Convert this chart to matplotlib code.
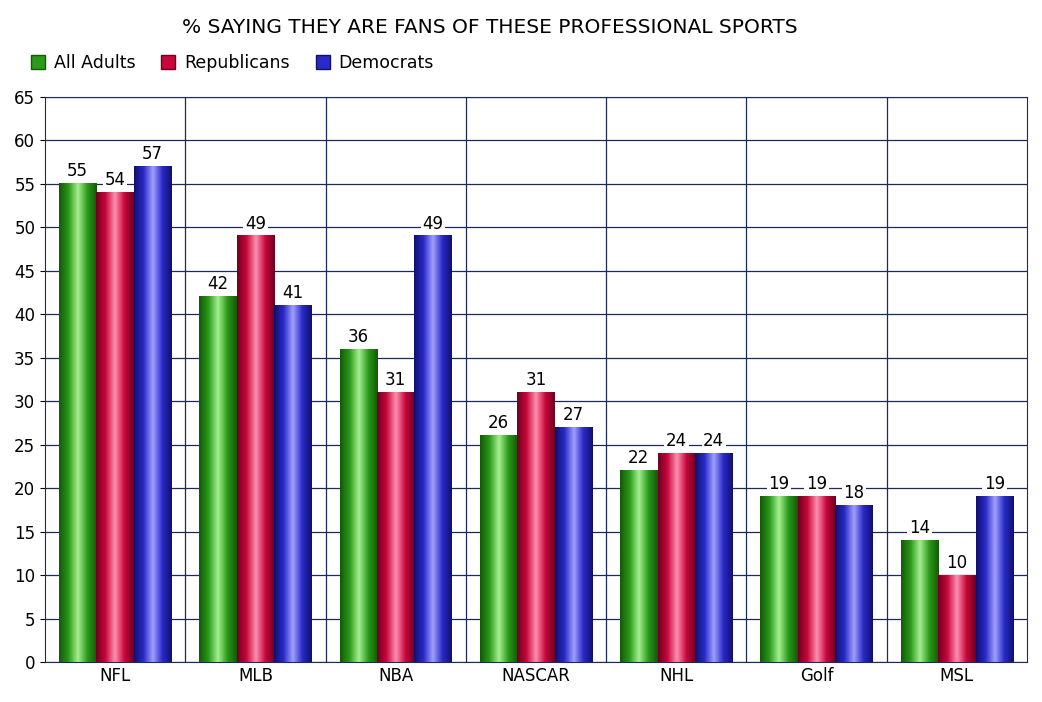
import matplotlib
matplotlib.use("Agg")
import matplotlib.pyplot as plt
import numpy as np
from matplotlib.colors import LinearSegmentedColormap
from matplotlib.patches import Rectangle

categories = ["NFL", "MLB", "NBA", "NASCAR", "NHL", "Golf", "MSL"]
series_names = ["All Adults", "Republicans", "Democrats"]
all_adults = [55, 42, 36, 26, 22, 19, 14]
republicans = [54, 49, 31, 31, 24, 19, 10]
democrats = [57, 41, 49, 27, 24, 18, 19]
yticks = list(range(0, 70, 5))

series = [all_adults, republicans, democrats]
base = ["#2a9a1a", "#c8083c", "#2a2ac8"]
dark = ["#145a08", "#700020", "#101070"]
light = ["#a8f090", "#ff90b0", "#a0a0ff"]

fig = plt.figure(figsize=(10.42, 7.02), dpi=100)
ax = fig.add_axes([0.0432, 0.057, 0.9424, 0.805])
n = len(categories)
w = 0.267
x = np.arange(n)
ax.set_xlim(-0.5, n - 0.5)
ax.set_ylim(0, 65)

for i, vals in enumerate(series):
    cmap = LinearSegmentedColormap.from_list("c", [dark[i], base[i], light[i], base[i], dark[i]])
    grad = np.linspace(0, 1, 64).reshape(1, -1)
    bars = ax.bar(x + (i - 1) * w, vals, w, color=base[i], zorder=3, label=series_names[i])
    for b, v in zip(bars, vals):
        b.set_alpha(0)
        ax.imshow(grad, cmap=cmap, aspect="auto", zorder=3,
                  extent=[b.get_x(), b.get_x() + b.get_width(), 0, b.get_height()])
        ax.text(b.get_x() + b.get_width() / 2, v + 0.4, str(v), ha="center", va="bottom",
                fontsize=12, zorder=5,
                bbox=dict(facecolor="white", edgecolor="none", pad=1.2))

ax.set_xlim(-0.5, n - 0.5)
ax.set_ylim(0, 65)
ax.set_yticks(yticks)
ax.set_xticks(x)
ax.set_xticklabels(categories, fontsize=12)
ax.tick_params(axis="y", labelsize=12)
ax.tick_params(axis="x", length=0)
ax.yaxis.grid(True, color="#1a2a5a", lw=0.9, zorder=0)
for k in range(1, n):
    ax.axvline(k - 0.5, color="#1a2a5a", lw=0.9, zorder=0)
for s in ax.spines.values():
    s.set_color("#1a2a5a")

fig.text(0.47, 0.975, "% SAYING THEY ARE FANS OF THESE PROFESSIONAL SPORTS",
         ha="center", va="top", fontsize=14.5)
handles = [Rectangle((0, 0), 1, 1, facecolor=base[i], edgecolor=dark[i]) for i in range(3)]
fig.legend(handles, series_names, loc="upper left", bbox_to_anchor=(0.015, 0.945),
           ncol=3, frameon=False, fontsize=12.5, handlelength=0.8, handleheight=0.9,
           columnspacing=1.5, handletextpad=0.5)
fig.savefig("out.png", dpi=100)
